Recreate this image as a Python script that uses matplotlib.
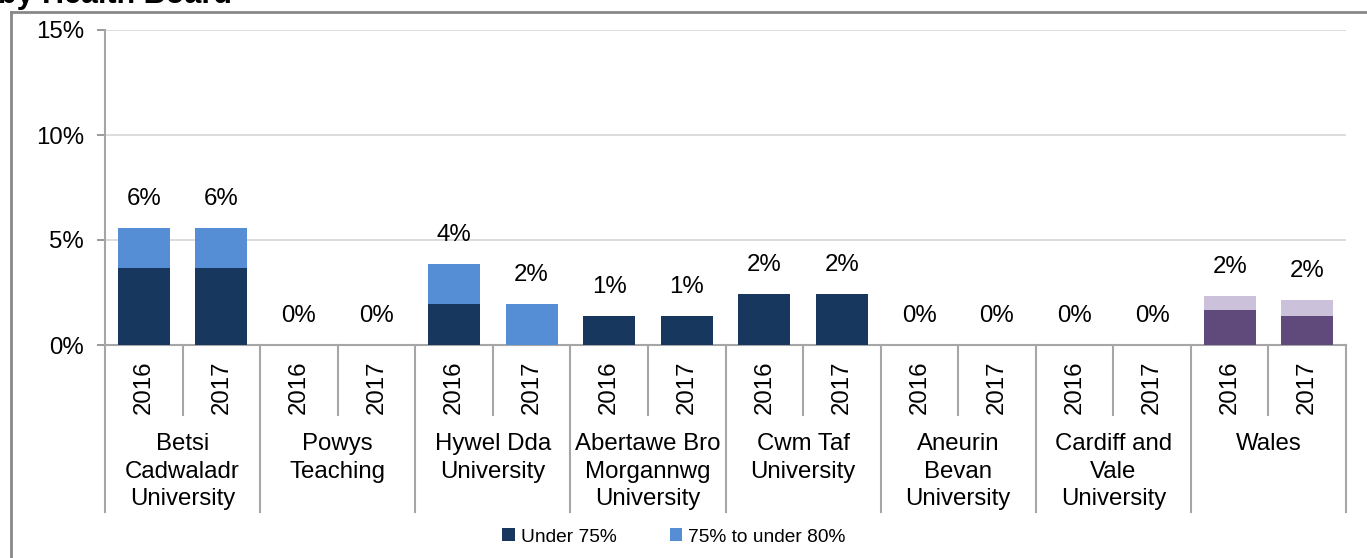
import matplotlib.pyplot as plt
from matplotlib.lines import Line2D
import matplotlib.transforms as mtransforms
import numpy as np

plt.rcParams['font.family'] = ['Liberation Sans', 'DejaVu Sans']

# data (percent)
boards = ['Betsi\nCadwaladr\nUniversity', 'Powys\nTeaching', 'Hywel Dda\nUniversity',
          'Abertawe Bro\nMorgannwg\nUniversity', 'Cwm Taf\nUniversity', 'Aneurin\nBevan\nUniversity',
          'Cardiff and\nVale\nUniversity', 'Wales']
years = ['2016', '2017']
under_75 = [3.65, 3.65, 0, 0, 1.95, 0, 1.38, 1.38, 2.43, 2.43, 0, 0, 0, 0, 1.67, 1.38]
from_75_to_80 = [1.92, 1.92, 0, 0, 1.9, 1.95, 0, 0, 0, 0, 0, 0, 0, 0, 0.66, 0.76]

dark = ['#17375E'] * 14 + ['#604A7B'] * 2
light = ['#558ED5'] * 14 + ['#CCC1DA'] * 2

W, H = 1367, 558
fig = plt.figure(figsize=(W / 100, H / 100), dpi=100)
ax = fig.add_axes([105 / W, 1 - 345 / H, 1241 / W, 315 / H])

x = np.arange(len(under_75))
under_75 = np.array(under_75)
from_75_to_80 = np.array(from_75_to_80)
ax.bar(x, under_75, 0.67, color=dark, zorder=3, label='Under 75%')
ax.bar(x, from_75_to_80, 0.67, bottom=under_75, color=light, zorder=3, label='75% to under 80%')

fs = 17.3
totals = under_75 + from_75_to_80
for xi, t in zip(x, totals):
    ax.annotate(f'{int(round(t))}%', (xi, t), xytext=(0, 21), textcoords='offset points',
                ha='center', va='center', fontsize=fs)

ax.set_xlim(-0.5, len(x) - 0.5)
ax.set_ylim(0, 15)
ax.set_yticks([0, 5, 10, 15])
ax.set_yticklabels(['0%', '5%', '10%', '15%'], fontsize=fs)
ax.tick_params(axis='y', length=6, width=1.2, color='#898989', pad=9)
ax.set_xticks([])
ax.grid(axis='y', color='#D9D9D9', lw=1.3, zorder=0)
for s in ['top', 'right']:
    ax.spines[s].set_visible(False)
for s in ['left', 'bottom']:
    ax.spines[s].set_color('#A6A6A6')
    ax.spines[s].set_linewidth(1.5)

# two-level category axis
tr = mtransforms.blended_transform_factory(ax.transData, ax.transAxes)
px = 1 / 315
for i, xi in enumerate(x):
    ax.text(xi, -42 * px, years[i % 2], transform=tr, rotation=90,
            ha='center', va='center', fontsize=fs)
for b in range(len(x) + 1):
    depth = 167 if b % 2 == 0 else 70
    ax.add_line(Line2D([b - 0.5, b - 0.5], [0, -depth * px], transform=tr,
                       color='#A6A6A6', lw=1.5, clip_on=False))
for g, name in enumerate(boards):
    ax.text(2 * g + 0.5, -88 * px, name, transform=tr, ha='center', va='top',
            fontsize=fs, linespacing=1.33)

fig.legend(loc='center', bbox_to_anchor=(0.493, 1 - 537 / H), ncol=2, frameon=False,
           fontsize=13.8, handlelength=0.65, handleheight=0.65, handletextpad=0.3,
           columnspacing=2.8)

# outer frame and cropped title
fig.add_artist(Line2D([11 / W, 1.01], [1 - 12 / H] * 2, transform=fig.transFigure,
                      color='#888888', lw=2))
fig.add_artist(Line2D([11 / W] * 2, [-0.01, 1 - 12 / H], transform=fig.transFigure,
                      color='#888888', lw=2))
fig.text(-2 / W, 1 - 3 / H, 'by Health Board', fontsize=22, fontweight='bold',
         ha='left', va='baseline')

fig.savefig('out.png', dpi=100)
